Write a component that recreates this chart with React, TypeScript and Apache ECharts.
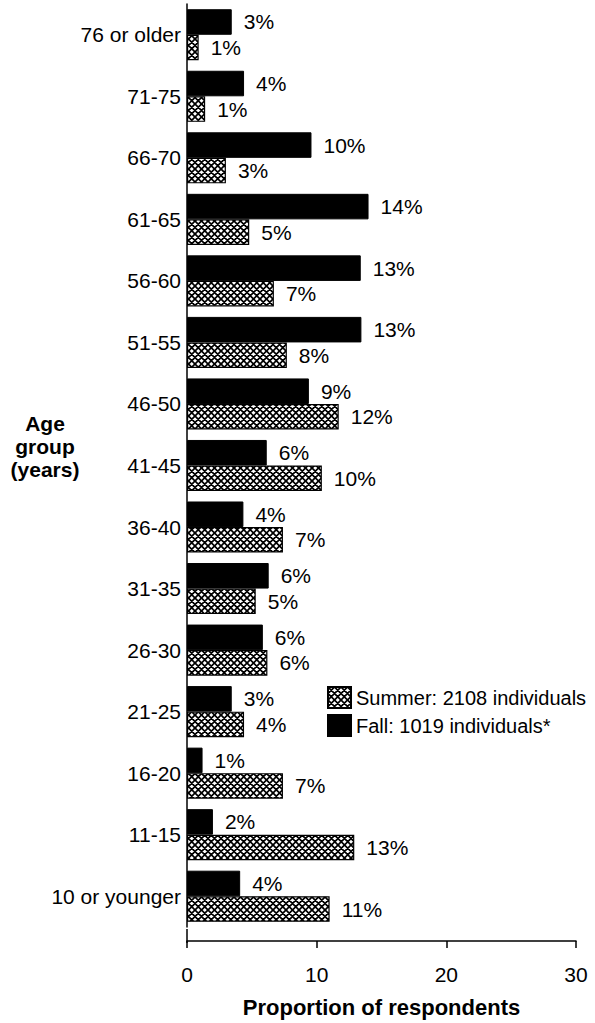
import React, { useEffect, useRef } from "react";
import * as echarts from "echarts";

const categories = [
  "10 or younger", "11-15", "16-20", "21-25", "26-30", "31-35", "36-40", "41-45",
  "46-50", "51-55", "56-60", "61-65", "66-70", "71-75", "76 or older",
];
const summerValues = [11.0, 12.9, 7.4, 4.4, 6.2, 5.3, 7.4, 10.4, 11.7, 7.7, 6.7, 4.8, 3.0, 1.4, 0.9];
const fallValues = [4.1, 2.0, 1.2, 3.45, 5.85, 6.3, 4.35, 6.15, 9.4, 13.45, 13.4, 14.0, 9.6, 4.4, 3.45];
const seriesNames = ["Summer: 2108 individuals", "Fall: 1019 individuals*"];
const xMin = 0;
const xMax = 30;
const xInterval = 10;
const yTitle = "Age\ngroup\n(years)";
const xTitle = "Proportion of respondents";

const FONT = "'Liberation Sans', Arial, Helvetica, sans-serif";

function makePattern(): HTMLCanvasElement {
  const c = document.createElement("canvas");
  const s = 13;
  c.width = s;
  c.height = s;
  const ctx = c.getContext("2d")!;
  ctx.fillStyle = "#ffffff";
  ctx.fillRect(0, 0, s, s);
  ctx.strokeStyle = "#000000";
  ctx.lineWidth = 1.7;
  ctx.beginPath();
  const h = s / 2;
  for (const o of [-s, -h, 0, h, s]) {
    ctx.moveTo(o - 1, -1);
    ctx.lineTo(o + s + 1, s + 1);
    ctx.moveTo(o + s + 1, -1);
    ctx.lineTo(o - 1, s + 1);
  }
  ctx.stroke();
  return c;
}

export default function App() {
  const ref = useRef<HTMLDivElement>(null);
  useEffect(() => {
    if (!ref.current) return;
    const chart = echarts.init(ref.current, undefined, { renderer: "svg" });
    const pattern = makePattern();
    const gridTop = 4;
    const gridBottom = 94;
    const gridLeft = 187;
    const labelStyle = {
      show: true,
      position: "right" as const,
      distance: 12,
      color: "#000",
      fontSize: 21,
      fontFamily: FONT,
      formatter: (p: any) => `${Math.round(p.value)}%`,
    };
    chart.setOption({
      animation: false,
      backgroundColor: "#ffffff",
      textStyle: { fontFamily: FONT, color: "#000" },
      grid: { left: gridLeft, right: 19, top: gridTop, bottom: gridBottom, containLabel: false },
      legend: {
        data: seriesNames,
        orient: "vertical",
        left: 322,
        top: 681,
        itemWidth: 23,
        itemHeight: 21,
        itemGap: 5,
        icon: "rect",
        textStyle: { fontSize: 20, color: "#000", fontFamily: FONT },
      },
      xAxis: {
        type: "value",
        min: xMin,
        max: xMax,
        interval: xInterval,
        offset: 14,
        splitLine: { show: false },
        axisLine: { show: true, lineStyle: { color: "#000", width: 1.5 } },
        axisTick: { show: true, length: 7, lineStyle: { color: "#000", width: 1.5 } },
        axisLabel: { fontSize: 21, color: "#000", margin: 23, fontFamily: FONT },
        name: xTitle,
        nameLocation: "middle",
        nameGap: 55,
        nameTextStyle: { fontSize: 22, fontWeight: "bold", color: "#000", fontFamily: FONT },
      },
      yAxis: {
        type: "category",
        data: categories,
        axisLine: { show: true, lineStyle: { color: "#000", width: 1.5 } },
        axisTick: { show: false },
        axisLabel: { fontSize: 21, color: "#000", margin: 6, padding: [5, 0, 0, 0], fontFamily: FONT },
      },
      graphic: [
        {
          type: "line",
          shape: { x1: gridLeft, y1: 1023 - gridBottom, x2: gridLeft, y2: 1023 - gridBottom + 14 },
          style: { stroke: "#000", lineWidth: 1.5 },
        },
        {
          type: "text",
          x: 45,
          y: 446,
          style: {
            text: yTitle,
            fontSize: 21,
            fontWeight: "bold",
            fontFamily: FONT,
            fill: "#000",
            align: "center",
            verticalAlign: "middle",
            lineHeight: 23,
          },
        },
      ],
      series: [
        {
          name: seriesNames[1],
          type: "bar",
          data: fallValues,
          barGap: "0%",
          barCategoryGap: "17%",
          itemStyle: { color: "#000", borderColor: "#000", borderWidth: 1 },
          label: labelStyle,
        },
        {
          name: seriesNames[0],
          type: "bar",
          data: summerValues,
          barGap: "0%",
          barCategoryGap: "17%",
          itemStyle: { color: { image: pattern, repeat: "repeat" }, borderColor: "#000", borderWidth: 1.2 },
          label: labelStyle,
        },
      ],
    });
    return () => chart.dispose();
  }, []);
  return <div ref={ref} style={{ width: 595, height: 1023, position: "absolute", left: 0, top: 0 }} />;
}
